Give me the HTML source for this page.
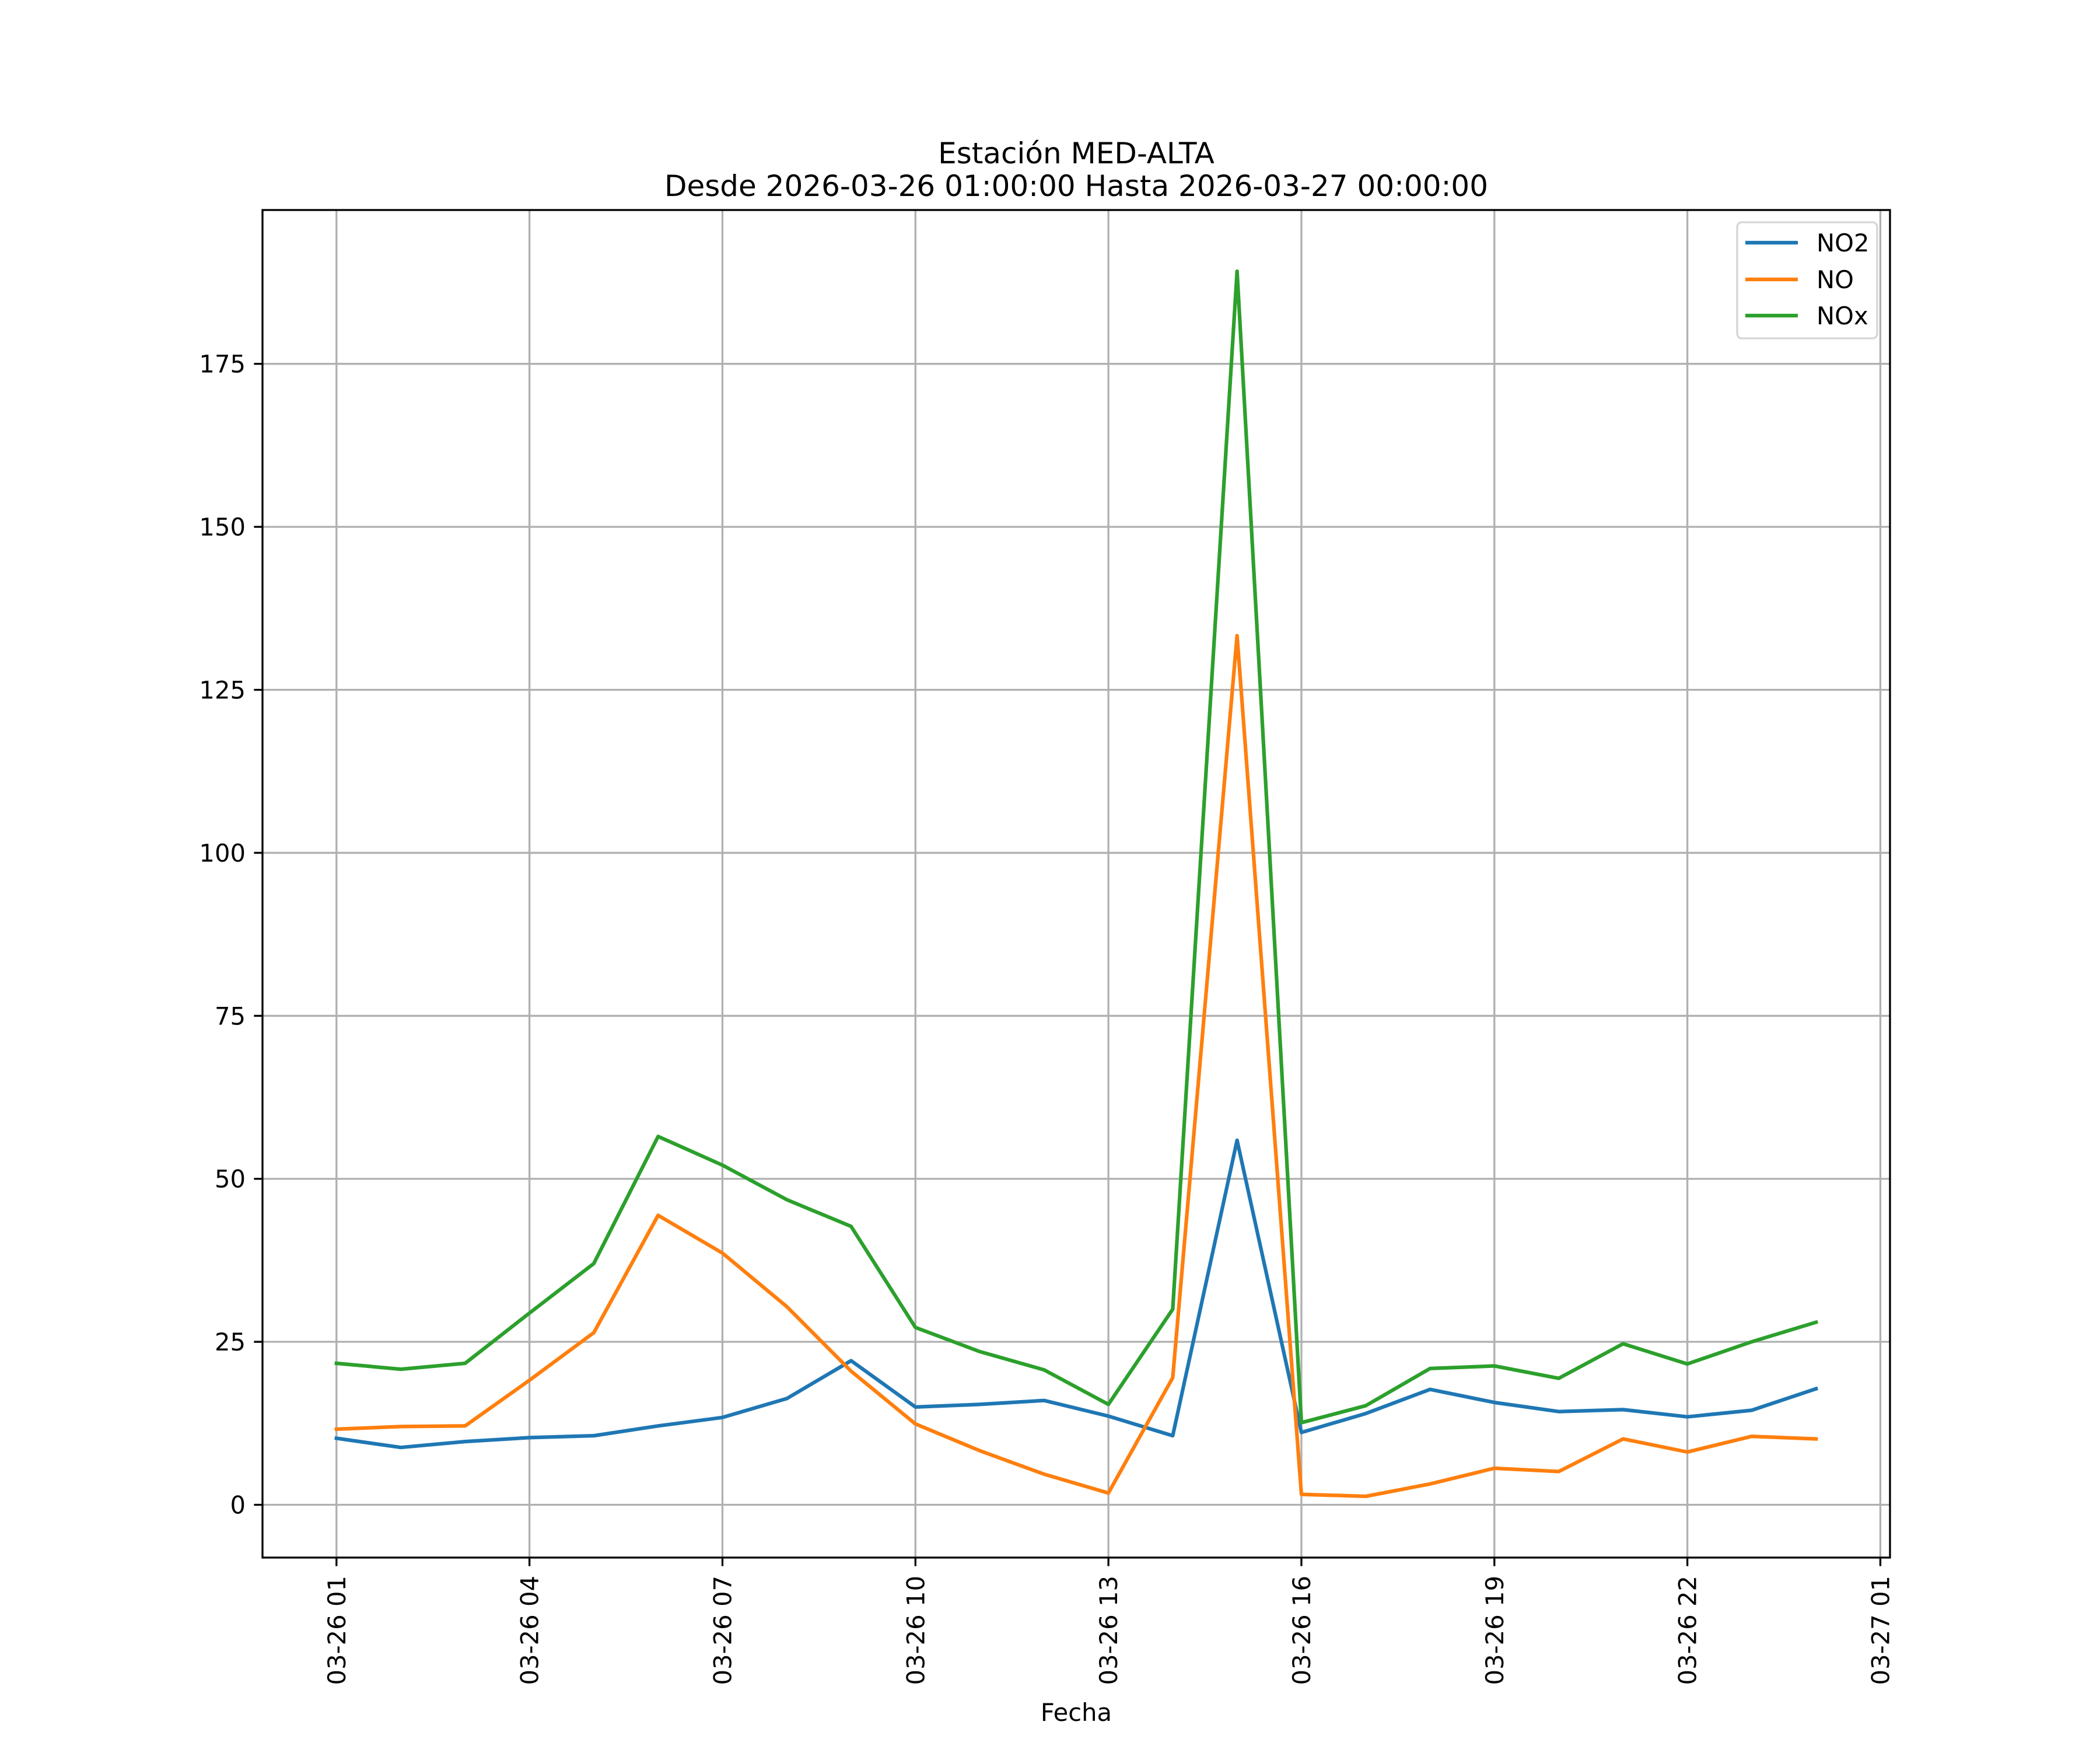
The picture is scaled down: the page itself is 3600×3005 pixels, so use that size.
<!DOCTYPE html>
<html><head><meta charset="utf-8"><style>
html,body{margin:0;padding:0;background:#fff;}
svg text{font-family:"DejaVu Sans","Liberation Sans",sans-serif;}
</style></head><body>
<svg id="chart" width="3600" height="3000" xmlns="http://www.w3.org/2000/svg">
<rect width="3600" height="3000" fill="#fff"/>
<g id="grid"></g>
<g id="series"></g>
<g id="axes"></g>
<text x="1845" y="280" font-size="50" text-anchor="middle">Estación MED-ALTA</text>
<text x="1845" y="336" font-size="50" text-anchor="middle">Desde 2026-03-26 01:00:00 Hasta 2026-03-27 00:00:00</text>
<text x="1845" y="2950" font-size="41.7" text-anchor="middle">Fecha</text>
<g>
<rect x="2978" y="381" width="240" height="199" rx="8" fill="#fff" fill-opacity="0.8" stroke="#d6d6d6" stroke-width="3.3"/>
<g><line x1="2992" y1="416" x2="3082" y2="416" stroke="#1f77b4" stroke-width="6.25"/><text x="3114" y="431" font-size="41.7">NO2</text></g>
<g><line x1="2992" y1="479" x2="3082" y2="479" stroke="#ff7f0e" stroke-width="6.25"/><text x="3114" y="494" font-size="41.7">NO</text></g>
<g><line x1="2992" y1="541" x2="3082" y2="541" stroke="#2ca02c" stroke-width="6.25"/><text x="3114" y="556" font-size="41.7">NOx</text></g>
</g>
</svg>
<script>
const hours = [1,2,3,4,5,6,7,8,9,10,11,12,13,14,15,16,17,18,19,20,21,22,23,24];
const no2 = [10.2,8.8,9.7,10.3,10.6,12.1,13.4,16.3,22.1,15.0,15.4,16.0,13.6,10.6,55.9,11.1,14.0,17.7,15.7,14.3,14.6,13.5,14.5,17.8];
const no = [11.6,12.0,12.1,19.1,26.4,44.4,38.6,30.4,20.5,12.4,8.3,4.7,1.8,19.5,133.3,1.6,1.3,3.2,5.6,5.1,10.1,8.1,10.5,10.1];
const nox = [21.7,20.8,21.7,29.4,37.0,56.5,52.1,46.8,42.7,27.2,23.5,20.7,15.4,30.0,189.2,12.6,15.2,20.9,21.3,19.4,24.7,21.6,25.0,28.0];
const yTicks = [0,25,50,75,100,125,150,175];
const xTickHours = [1,4,7,10,13,16,19,22,25];
const xTickLabels = ["03-26 01","03-26 04","03-26 07","03-26 10","03-26 13","03-26 16","03-26 19","03-26 22","03-27 01"];

const L=450,R=3240,T=360,B=2670;
const NS='http://www.w3.org/2000/svg';
const allV=no2.concat(no,nox);
const vmin=Math.min(...allV),vmax=Math.max(...allV),pad=(vmax-vmin)*0.05;
const y0=vmin-pad,y1=vmax+pad;
const h0=hours[0],h1=hours[hours.length-1],hp=(h1-h0)*0.05;
const x0=h0-hp,x1=h1+hp;
function X(h){return L+(h-x0)/(x1-x0)*(R-L);}
function Y(v){return B-(v-y0)/(y1-y0)*(B-T);}
function mk(tag,attrs,parent){const e=document.createElementNS(NS,tag);for(const k in attrs)e.setAttribute(k,attrs[k]);parent.appendChild(e);return e;}
const grid=document.getElementById('grid'),axes=document.getElementById('axes'),series=document.getElementById('series');
yTicks.forEach(v=>{
  const y=Y(v);
  const g=mk('line',{x1:L,x2:R,y1:y,y2:y,stroke:'#b0b0b0','stroke-width':3.3},grid);
  
  
  mk('line',{x1:L-14.6,x2:L,y1:y,y2:y,stroke:'#000','stroke-width':3.3},axes);
  const t=mk('text',{x:L-29,y:y+15,'font-size':41.7,'text-anchor':'end'},axes);
  t.textContent=v;
  
  
});
xTickHours.forEach((h,i)=>{
  const x=X(h);
  const g=mk('line',{x1:x,x2:x,y1:T,y2:B,stroke:'#b0b0b0','stroke-width':3.3},grid);
  
  
  mk('line',{x1:x,x2:x,y1:B,y2:B+14.6,stroke:'#000','stroke-width':3.3},axes);
  const t=mk('text',{x:0,y:0,'font-size':41.7,'text-anchor':'end',transform:`translate(${x+15},${B+31}) rotate(-90)`},axes);
  t.textContent=xTickLabels[i];
  
  
});
const fr=mk('rect',{x:L,y:T,width:R-L,height:B-T,fill:'none',stroke:'#000','stroke-width':3.3},axes);


[[no2,'#1f77b4','line-no2'],[no,'#ff7f0e','line-no'],[nox,'#2ca02c','line-nox']].forEach(([d,c,n])=>{
  const pts=d.map((v,i)=>X(hours[i]).toFixed(1)+','+Y(v).toFixed(1)).join(' ');
  const p=mk('polyline',{points:pts,fill:'none',stroke:c,'stroke-width':6.25,'stroke-linejoin':'round','stroke-linecap':'square'},series);
  
  
});
</script>
</body></html>
